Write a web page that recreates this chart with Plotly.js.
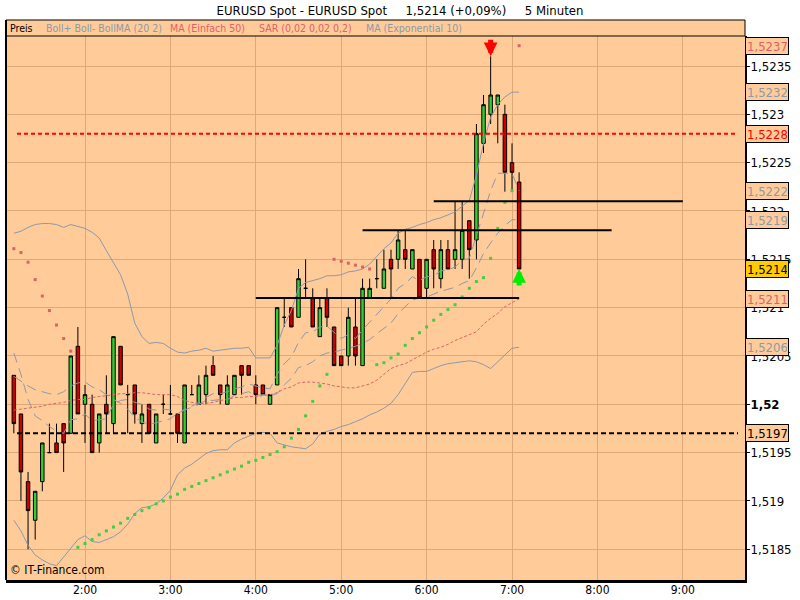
<!DOCTYPE html>
<html><head><meta charset="utf-8">
<script src="https://cdn.plot.ly/plotly-3.0.1.min.js"></script>
<style>html,body{margin:0;padding:0;background:#fff;}#chart{width:800px;height:600px;}</style>
</head><body><div id="chart"></div>
<script>
// ---------- data ----------
const day = '2009-11-25';
const firstCandleMinute = 70;   // 1:10
const candleStep = 5;           // minutes

const openP  = [1.5203,1.5199,1.5192,1.5188,1.5192,1.5195,1.5196,1.5198,1.5197,1.5206,1.5200,1.5200,1.5196,1.5200,1.5198,1.5206,1.5201,1.5202,1.5198,1.5200,1.5196,1.5200,1.5199,1.5199,1.5196,1.5201,1.5200,1.5201,1.5204,1.5202,1.5200,1.5201,1.5204,1.5204,1.5202,1.5202,1.5200,1.5202,1.5209,1.5210,1.5209,1.5212,1.5211,1.5207,1.5211,1.5208,1.5205,1.5205,1.5208,1.5204,1.5211,1.5213,1.5212,1.5215,1.5215,1.5216,1.5214,1.5215,1.5212,1.5216,1.5213,1.5216,1.5215,1.5215,1.5219,1.5217,1.5227,1.5230,1.5231,1.5230,1.5225,1.5223];
const highP  = [1.5203,1.5199,1.5193,1.5191,1.5196,1.5198,1.5198,1.5198,1.5205,1.5208,1.5202,1.5201,1.5199,1.5203,1.5207,1.5206,1.5202,1.5202,1.5200,1.5200,1.5199,1.5201,1.5202,1.5199,1.5202,1.5202,1.5203,1.5204,1.5205,1.5202,1.5203,1.5203,1.5204,1.5204,1.5203,1.5202,1.5201,1.5210,1.5211,1.5210,1.5214,1.5215,1.5212,1.5211,1.5212,1.5208,1.5205,1.5210,1.5211,1.5213,1.5213,1.5215,1.5216,1.5216,1.5218,1.5218,1.5216,1.5215,1.5215,1.5217,1.5217,1.5217,1.5221,1.5221,1.5219,1.5229,1.5232,1.5236,1.5232,1.5231,1.5227,1.5224];
const lowP   = [1.5197,1.5190,1.5185,1.5186,1.5191,1.5195,1.5195,1.5193,1.5197,1.5199,1.5196,1.5195,1.5195,1.5197,1.5197,1.5202,1.5197,1.5198,1.5196,1.5197,1.5196,1.5199,1.5199,1.5196,1.5196,1.5201,1.5200,1.5200,1.5203,1.5200,1.5200,1.5201,1.5201,1.5203,1.5200,1.5201,1.5200,1.5202,1.5208,1.5208,1.5209,1.5211,1.5208,1.5207,1.5208,1.5204,1.5204,1.5204,1.5204,1.5204,1.5211,1.5212,1.5212,1.5211,1.5214,1.5214,1.5214,1.5211,1.5211,1.5212,1.5212,1.5214,1.5214,1.5214,1.5213,1.5215,1.5226,1.5229,1.5227,1.5222,1.5222,1.5214];
const closeP = [1.5198,1.5193,1.5189,1.5191,1.5196,1.5195,1.5195,1.5196,1.5205,1.5199,1.5201,1.5195,1.5199,1.5199,1.5207,1.5202,1.5201,1.5199,1.5199,1.5197,1.5199,1.5200,1.5199,1.5197,1.5202,1.5201,1.5202,1.5203,1.5203,1.5201,1.5202,1.5203,1.5203,1.5203,1.5201,1.5201,1.5201,1.5210,1.5209,1.5208,1.5213,1.5212,1.5208,1.5210,1.5209,1.5204,1.5204,1.5209,1.5205,1.5212,1.5212,1.5213,1.5214,1.5214,1.5217,1.5215,1.5216,1.5211,1.5215,1.5214,1.5216,1.5214,1.5216,1.5218,1.5216,1.5228,1.5231,1.5232,1.5232,1.5224,1.5224,1.5214];

const bollUpper = [1.52177,1.52179,1.52183,1.52186,1.52187,1.52187,1.52186,1.52183,1.52186,1.52184,1.52182,1.52178,1.52172,1.52159,1.52146,1.52134,1.52114,1.52084,1.52070,1.52063,1.52064,1.52063,1.52058,1.52054,1.52053,1.52055,1.52056,1.52058,1.52055,1.52056,1.52057,1.52058,1.52058,1.52059,1.52048,1.52048,1.52048,1.52061,1.52082,1.52097,1.52120,1.52126,1.52128,1.52130,1.52133,1.52133,1.52134,1.52137,1.52138,1.52140,1.52145,1.52153,1.52161,1.52167,1.52177,1.52181,1.52183,1.52186,1.52188,1.52191,1.52193,1.52196,1.52199,1.52205,1.52211,1.52237,1.52270,1.52297,1.52310,1.52318,1.52323,1.52323];
const bollLower = [1.51880,1.51869,1.51854,1.51844,1.51839,1.51835,1.51833,1.51842,1.51851,1.51860,1.51864,1.51858,1.51857,1.51860,1.51863,1.51868,1.51876,1.51887,1.51893,1.51894,1.51897,1.51903,1.51911,1.51927,1.51934,1.51938,1.51944,1.51949,1.51952,1.51953,1.51953,1.51960,1.51964,1.51967,1.51970,1.51971,1.51970,1.51960,1.51958,1.51956,1.51955,1.51954,1.51959,1.51969,1.51972,1.51974,1.51977,1.51979,1.51982,1.51985,1.51989,1.51992,1.51996,1.52001,1.52010,1.52021,1.52033,1.52034,1.52034,1.52037,1.52040,1.52042,1.52043,1.52044,1.52045,1.52044,1.52041,1.52037,1.52044,1.52051,1.52058,1.52059];
const bollMA = [1.52029,1.52024,1.52019,1.52015,1.52013,1.52011,1.52010,1.52013,1.52019,1.52022,1.52023,1.52018,1.52015,1.52010,1.52005,1.52001,1.51995,1.51986,1.51982,1.51979,1.51981,1.51983,1.51985,1.51991,1.51994,1.51997,1.52000,1.52004,1.52004,1.52005,1.52005,1.52009,1.52011,1.52013,1.52009,1.52010,1.52009,1.52011,1.52020,1.52027,1.52038,1.52040,1.52044,1.52050,1.52053,1.52054,1.52056,1.52058,1.52060,1.52063,1.52067,1.52073,1.52079,1.52084,1.52094,1.52101,1.52108,1.52110,1.52111,1.52114,1.52117,1.52119,1.52121,1.52125,1.52128,1.52141,1.52156,1.52167,1.52177,1.52185,1.52191,1.52191];
const ma50 = [1.51994,1.51995,1.51996,1.51997,1.51998,1.52000,1.52001,1.52002,1.52004,1.52005,1.52005,1.52007,1.52008,1.52009,1.52010,1.52011,1.52011,1.52012,1.52012,1.52011,1.52010,1.52010,1.52010,1.52008,1.52004,1.52002,1.52001,1.52001,1.52002,1.52004,1.52005,1.52007,1.52007,1.52008,1.52008,1.52009,1.52010,1.52012,1.52016,1.52018,1.52022,1.52023,1.52023,1.52022,1.52021,1.52019,1.52018,1.52017,1.52017,1.52019,1.52021,1.52025,1.52031,1.52037,1.52040,1.52042,1.52046,1.52050,1.52054,1.52057,1.52059,1.52062,1.52066,1.52069,1.52072,1.52075,1.52083,1.52089,1.52094,1.52101,1.52105,1.52109];
const ema10 = [1.52053,1.52031,1.52005,1.51988,1.51983,1.51977,1.51972,1.51970,1.51984,1.51985,1.51990,1.51983,1.51984,1.51985,1.52000,1.52004,1.52005,1.52002,1.52000,1.51995,1.51994,1.51995,1.51994,1.51990,1.51995,1.51998,1.52002,1.52007,1.52011,1.52011,1.52013,1.52016,1.52018,1.52021,1.52019,1.52017,1.52016,1.52031,1.52042,1.52049,1.52064,1.52074,1.52075,1.52080,1.52081,1.52074,1.52068,1.52072,1.52068,1.52077,1.52085,1.52093,1.52102,1.52109,1.52120,1.52125,1.52132,1.52128,1.52132,1.52133,1.52138,1.52139,1.52142,1.52149,1.52151,1.52175,1.52199,1.52221,1.52239,1.52239,1.52239,1.52221];
const sarValue = [1.52161,1.52157,1.52147,1.52129,1.52112,1.52097,1.52082,1.52068,1.52055,
  1.51852,1.51856,1.51860,1.51865,1.51869,1.51873,1.51877,1.51882,1.51886,1.51890,1.51893,1.51897,1.51900,1.51904,1.51907,1.51912,1.51915,1.51918,1.51921,1.51924,1.51927,1.51930,1.51933,1.51936,1.51940,1.51942,1.51945,1.51948,1.51951,1.51956,1.51965,1.51974,1.51988,1.52003,1.52019,1.52031,
  1.52150,1.52148,1.52146,1.52144,1.52142,1.52140,
  1.52041,1.52043,1.52048,1.52052,1.52061,1.52068,1.52074,1.52080,1.52087,1.52093,1.52098,1.52103,1.52111,1.52120,1.52127,1.52131,1.52151,1.52182,1.52209,1.52221,
  1.52371];
// +1 = SAR below price (uptrend), -1 = above price (downtrend)
const sarSide = [-1,-1,-1,-1,-1,-1,-1,-1,-1,
  1,1,1,1,1,1,1,1,1,1,1,1,1,1,1,1,1,1,1,1,1,1,1,1,1,1,1,1,1,1,1,1,1,1,1,1,
  -1,-1,-1,-1,-1,-1,
  1,1,1,1,1,1,1,1,1,1,1,1,1,1,1,1,1,1,1,1,
  -1];

const refLinePrices = [1.5228, 1.5197];
const refLineColors = ['#FF0000', '#000000'];
const segStart = ['04:00', '05:15', '06:05'];
const segEnd   = ['07:05', '08:10', '09:00'];
const segPrice = [1.5211, 1.5218, 1.5221];
const signalTime  = ['06:45', '07:05'];
const signalPrice = [1.5236, 1.5214];
const signalDir   = ['down', 'up'];

const yTicks = [1.5185, 1.519, 1.5195, 1.52, 1.5205, 1.521, 1.5215, 1.522, 1.5225, 1.523, 1.5235];
const titleText = 'EURUSD Spot - EURUSD Spot\u00a0\u00a0\u00a0\u00a0 1,5214 (+0,09%)\u00a0\u00a0\u00a0\u00a0 5 Minuten';
const legendItems = ['Preis', 'Boll+ Boll- BollMA (20 2)', 'MA (Einfach 50)', 'SAR (0,02 0,02 0,2)', 'MA (Exponential 10)'];

// ---------- build ----------
function hm(min){const h=Math.floor(min/60),m=min%60;return day+' '+String(h).padStart(2,'0')+':'+String(m).padStart(2,'0');}
function at(t){return day+' '+t;}
const times = openP.map((_,i)=>hm(firstCandleMinute+i*candleStep));
const fmt = v => v.toFixed(4).replace('.', ',');

const FONT = 'DejaVu Sans Condensed, DejaVu Sans, Liberation Sans, sans-serif';
const PEACH = '#FFCC99', GRID = '#E0A878', GRAY = '#8B99AA', SALMON = '#E0606A';
const GREEN = '#33CC33', RED = '#CC0000';

const L = 6, R = 745, T = 36, B = 580;
const plotW = R - L, plotH = B - T;
const px = x => (x - L) / plotW;
const py = y => (B - y) / plotH;

const traces = [
  {type:'candlestick', x:times, open:openP, high:highP, low:lowP, close:closeP,
   increasing:{line:{color:'#000',width:1}, fillcolor:GREEN},
   decreasing:{line:{color:'#000',width:1}, fillcolor:RED},
   whiskerwidth:0, hoverinfo:'skip'},
  {type:'scatter', mode:'lines', x:times, y:bollUpper, line:{color:GRAY,width:1}},
  {type:'scatter', mode:'lines', x:times, y:bollLower, line:{color:GRAY,width:1}},
  {type:'scatter', mode:'lines', x:times, y:bollMA, line:{color:GRAY,width:1,dash:'10px,6px'}},
  {type:'scatter', mode:'lines', x:times, y:ema10, line:{color:GRAY,width:1,dash:'10px,6px'}},
  {type:'scatter', mode:'lines', x:times, y:ma50, line:{color:SALMON,width:1,dash:'3px,2px'}},
  {type:'scatter', mode:'markers', x:times, y:sarValue.map((v,i)=>sarSide[i]>0?v:null),
   marker:{symbol:'square', size:3, color:'#44CC44', line:{width:0}}},
  {type:'scatter', mode:'markers', x:times, y:sarValue.map((v,i)=>sarSide[i]<0?v:null),
   marker:{symbol:'square', size:3, color:SALMON, line:{width:0}}}
];

const shapes = [];
refLinePrices.forEach((p,i)=>shapes.push({type:'line', xref:'paper', yref:'y', x0:px(17), x1:px(738), y0:p, y1:p,
  line:{color:refLineColors[i], width:2, dash:i===0?'4px,3px':'5px,3px'}, layer:'above'}));
segPrice.forEach((p,i)=>shapes.push({type:'line', xref:'x', yref:'y', x0:at(segStart[i]), x1:at(segEnd[i]), y0:p, y1:p,
  line:{color:'#000', width:2}, layer:'above'}));
// legend bar and left border
shapes.push({type:'rect', xref:'paper', yref:'paper', x0:0, x1:1, y0:1, y1:1+16/plotH,
  fillcolor:PEACH, line:{color:'#000', width:1}, layer:'above'});
shapes.push({type:'line', xref:'paper', yref:'paper', x0:0, x1:0, y0:0, y1:1+16/plotH,
  line:{color:'#000', width:2}, layer:'above'});

const annotations = [];
const legendX = [8, 44, 168, 257, 364];
const legendC = ['#000', GRAY, SALMON, SALMON, GRAY];
legendItems.forEach((t,i)=>annotations.push({xref:'paper', yref:'paper', x:px(legendX[i]), y:1+8/plotH,
  xanchor:'left', yanchor:'middle', text:t, showarrow:false, font:{size:10.5, color:legendC[i], family:FONT}}));
annotations.push({xref:'paper', yref:'paper', x:px(8), y:py(579), xanchor:'left', yanchor:'bottom',
  text:'\u00a9 IT-Finance.com', showarrow:false, font:{size:12, color:'#000', family:FONT}});

signalTime.forEach((t,i)=>annotations.push({xref:'x', yref:'y', x:at(t), y:signalPrice[i], text:'',
  showarrow:true, arrowhead:2, arrowsize:0.55, arrowwidth:5, standoff:0,
  arrowcolor: signalDir[i]==='down' ? '#FF0000' : '#00EE00',
  ax:0, ay: signalDir[i]==='down' ? -18 : 18}));

// value boxes on the right axis
const last = a => a[a.length-1];
const boxes = [
  {v:last(sarValue), c:SALMON, bg:PEACH},
  {v:last(bollUpper), c:GRAY, bg:PEACH},
  {v:refLinePrices[0], c:'#FF0000', bg:PEACH},
  {v:last(ema10), c:GRAY, bg:PEACH},
  {v:last(bollMA), c:GRAY, bg:PEACH},
  {v:last(closeP), c:'#000', bg:'#FFCC00'},
  {v:last(ma50), c:SALMON, bg:PEACH},
  {v:last(bollLower), c:GRAY, bg:PEACH},
  {v:refLinePrices[1], c:'#000', bg:PEACH}
];
boxes.forEach(b=>annotations.push({xref:'paper', yref:'y', x:1, y:b.v, xanchor:'left', yanchor:'middle',
  text:fmt(b.v), showarrow:false, align:'left', width:40, height:14, borderpad:1, borderwidth:1,
  bordercolor:'#000', bgcolor:b.bg, font:{size:13, color:b.c, family:FONT}}));

const layout = {
  width:800, height:600,
  margin:{l:L, r:800-R, t:T, b:600-B, pad:0},
  paper_bgcolor:'#FFFFFF', plot_bgcolor:PEACH,
  showlegend:false, separators:',.',
  font:{family:FONT, size:13, color:'#000'},
  title:{text:titleText, x:0.5, xanchor:'center', xref:'container', y:1-10/600, yanchor:'middle', yref:'container',
    font:{size:13, color:'#000', family:FONT}},
  xaxis:{type:'date', range:[day+' 01:04:30', day+' 09:43:42'], dtick:3600000, tick0:day+' 00:00',
    tickformat:'%-H:%M', showgrid:true, gridcolor:GRID, gridwidth:1, showline:true, linecolor:'#000', linewidth:3,
    ticks:'', ticklabelstandoff:-3, zeroline:false, rangeslider:{visible:false}, fixedrange:true,
    tickfont:{size:12, color:'#000'}},
  yaxis:{side:'right', range:[1.518182, 1.5238106], tickmode:'array', tickvals:yTicks,
    ticktext:yTicks.map(v=>v===1.52?'<b>1,52</b>':fmt(v).replace(/0+$/,'')),
    showgrid:true, gridcolor:GRID, gridwidth:1, showline:true, linecolor:'#000', linewidth:2,
    ticks:'outside', ticklen:3, tickcolor:'#000', ticklabelstandoff:-2, zeroline:false, fixedrange:true,
    tickfont:{size:13, color:'#000'}},
  shapes, annotations
};

Plotly.newPlot('chart', traces, layout, {staticPlot:true, displayModeBar:false});
</script></body></html>
